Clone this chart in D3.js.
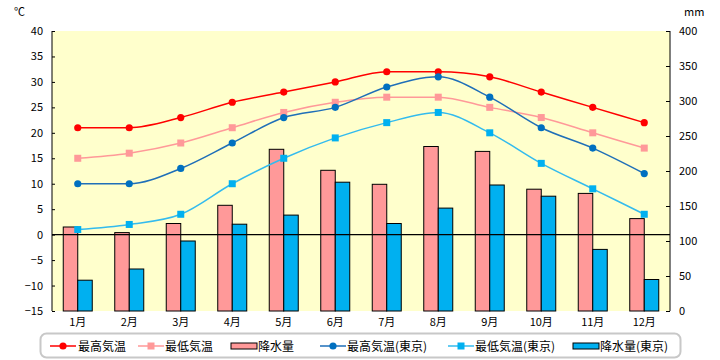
<!DOCTYPE html>
<html><head><meta charset="utf-8">
<script src="https://cdn.jsdelivr.net/npm/d3@7"></script>
<style>
html,body{margin:0;padding:0;background:#fff;}
text{font-family:"Noto Sans CJK JP","DejaVu Sans",sans-serif;}
</style></head>
<body><svg id="c" width="720" height="360"></svg>
<script>
const months = ["1月","2月","3月","4月","5月","6月","7月","8月","9月","10月","11月","12月"];
const maxTemp = [21,21,23,26,28,30,32,32,31,28,25,22];
const minTemp = [15,16,18,21,24,26,27,27,25,23,20,17];
const precip = [120,112,125,151,231,201,181,235,228,174,168,132];
const maxTempTokyo = [10,10,13,18,23,25,29,31,27,21,17,12];
const minTempTokyo = [1,2,4,10,15,19,22,24,20,14,9,4];
const precipTokyo = [44,60,100,124,137,184,125,147,180,164,88,45];
const tempTicks = [40,35,30,25,20,15,10,5,0,-5,-10,-15];
const precipTicks = [400,350,300,250,200,150,100,50,0];
const legendLabels = ["最高気温","最低気温","降水量","最高気温(東京)","最低気温(東京)","降水量(東京)"];

const svg = d3.select("#c");
const L=52, R=670, T=31, B=311;
const x = d3.scaleBand().domain(months).range([L,R]);
const yT = d3.scaleLinear().domain([-15,40]).range([B,T]);
const yP = d3.scaleLinear().domain([0,400]).range([B,T]);
const bw = 14.5;
const cx = m => x(m) + x.bandwidth()/2;

svg.append("rect").attr("x",L).attr("y",T).attr("width",R-L).attr("height",B-T).attr("fill","#FFFFCC");

// bars
const bars = [{vals:precip,color:"#FF9999",off:-bw},{vals:precipTokyo,color:"#00B0F0",off:0}];
bars.forEach(b=>{
  svg.append("g").selectAll("rect").data(months).join("rect")
    .attr("x",(m)=>cx(m)+b.off).attr("width",bw)
    .attr("y",(m,i)=>yP(b.vals[i])).attr("height",(m,i)=>B-yP(b.vals[i]))
    .attr("fill",b.color).attr("stroke","#000").attr("stroke-width",1);
});

// zero line
svg.append("line").attr("x1",L).attr("x2",R).attr("y1",yT(0)).attr("y2",yT(0)).attr("stroke","#000").attr("stroke-width",1.2);

// axes
const axL = svg.append("g").attr("transform",`translate(${L},0)`)
  .call(d3.axisLeft(yT).tickValues(tempTicks).tickSize(-3).tickPadding(10).tickFormat(d=>d<0?"−"+Math.abs(d):d));
const axR = svg.append("g").attr("transform",`translate(${R},0)`)
  .call(d3.axisRight(yP).tickValues(precipTicks).tickSize(-4).tickPadding(10));
[axL,axR].forEach(a=>{
  a.select(".domain").attr("stroke","#000").attr("d",`M0,${T}V${B}`);
  a.selectAll("text").attr("font-size",11).attr("fill","#000");
  a.selectAll("line").attr("stroke","#000");
});
axL.selectAll("text").attr("x",-9);
axR.selectAll("text").attr("x",9);

svg.append("g").selectAll("text").data(months).join("text")
  .attr("x",cx).attr("y",326).attr("text-anchor","middle").attr("font-size",11).text(d=>d);

svg.append("text").attr("x",14).attr("y",16).attr("font-size",11).text("℃");
svg.append("text").attr("x",684).attr("y",16).attr("font-size",11).text("mm");

// lines
const series = [
  {vals:maxTemp,color:"#FF0000",line:"#FF0000",shape:"circle"},
  {vals:minTemp,color:"#FF9999",line:"#FF9999",shape:"square"},
  {vals:maxTempTokyo,color:"#0070C0",line:"#1F6FB8",shape:"circle"},
  {vals:minTempTokyo,color:"#00B0F0",line:"#33BBEE",shape:"square"}
];
const lineGen = d3.line().curve(d3.curveMonotoneX);
series.forEach(s=>{
  const pts = months.map((m,i)=>[cx(m),yT(s.vals[i])]);
  svg.append("path").attr("d",lineGen(pts)).attr("fill","none").attr("stroke",s.line).attr("stroke-width",1.5);
  const g = svg.append("g");
  if(s.shape==="circle"){
    g.selectAll("circle").data(pts).join("circle").attr("cx",d=>d[0]).attr("cy",d=>d[1]).attr("r",3.6).attr("fill",s.color);
  } else {
    g.selectAll("rect").data(pts).join("rect").attr("x",d=>d[0]-3.5).attr("y",d=>d[1]-3.5).attr("width",7).attr("height",7).attr("fill",s.color);
  }
});

// legend
svg.append("rect").attr("x",40.5).attr("y",333.5).attr("width",640).attr("height",24).attr("rx",6)
  .attr("fill","#fff").attr("stroke","#C8C8C8").attr("stroke-width",2);
const lg = [
  {sx:50, tx:78, kind:"line", s:series[0]},
  {sx:138, tx:165, kind:"line", s:series[1]},
  {sx:231, tx:258, kind:"bar", color:"#FF9999"},
  {sx:320, tx:347, kind:"line", s:series[2]},
  {sx:448, tx:475, kind:"line", s:series[3]},
  {sx:573, tx:600, kind:"bar", color:"#00B0F0"}
];
const ly = 346;
lg.forEach((d,i)=>{
  if(d.kind==="line"){
    svg.append("line").attr("x1",d.sx).attr("x2",d.sx+26).attr("y1",ly).attr("y2",ly).attr("stroke",d.s.line).attr("stroke-width",1.5);
    if(d.s.shape==="circle") svg.append("circle").attr("cx",d.sx+13).attr("cy",ly).attr("r",3.6).attr("fill",d.s.color);
    else svg.append("rect").attr("x",d.sx+9.5).attr("y",ly-3.5).attr("width",7).attr("height",7).attr("fill",d.s.color);
  } else {
    svg.append("rect").attr("x",d.sx).attr("y",ly-3).attr("width",26).attr("height",6).attr("fill",d.color).attr("stroke","#000").attr("stroke-width",1);
  }
  svg.append("text").attr("x",d.tx).attr("y",ly+4.5).attr("font-size",12).text(legendLabels[i]);
});
</script></body></html>
